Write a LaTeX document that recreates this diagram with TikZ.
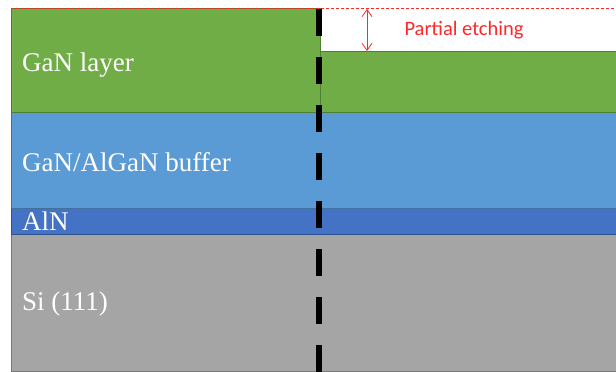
\documentclass[tikz,border=0pt]{standalone}
\usepackage{fontspec}
\setmainfont{Liberation Serif}
\newfontfamily\calibri{Carlito}
\usetikzlibrary{arrows.meta}
\definecolor{ganfill}{RGB}{112,173,71}
\definecolor{ganline}{RGB}{80,126,50}
\definecolor{buffill}{RGB}{91,155,213}
\definecolor{bufline}{RGB}{65,113,156}
\definecolor{alnfill}{RGB}{68,114,196}
\definecolor{alnline}{RGB}{47,82,143}
\definecolor{sifill}{RGB}{165,165,165}
\definecolor{siline}{RGB}{120,120,120}
\definecolor{etchred}{RGB}{255,40,40}
\begin{document}
\begin{tikzpicture}[x=1pt,y=-1pt,
  layerlabel/.style={anchor=base west, inner sep=0pt, text=white, font=\fontsize{27}{30}\selectfont},
  cutline/.style={line width=6.5pt, dash pattern=on 27pt off 21pt},
  reddash/.style={etchred, line width=0.8pt, dash pattern=on 3pt off 2pt},
  etcharrow/.style={etchred, line width=0.8pt, {Straight Barb[length=7pt,width=10pt]}-{Straight Barb[length=7pt,width=10pt]}}]
\useasboundingbox (0,0) rectangle (616,372);
\fill[white] (0,0) rectangle (616,372);
% layers
\filldraw[fill=sifill, draw=siline, line width=1pt] (11,234) rectangle (620,371);
\filldraw[fill=alnfill, draw=alnline, line width=1pt] (11,208) rectangle (620,234);
\filldraw[fill=buffill, draw=bufline, line width=1pt] (11,112) rectangle (620,208);
\filldraw[fill=ganfill, draw=ganline, line width=1pt] (11,8) rectangle (320,112);
\filldraw[fill=ganfill, draw=ganline, line width=1pt] (320,51.5) rectangle (620,112);
% red top line
\coordinate (tl) at (11,8);
\coordinate (tr) at (616,8);
\draw[reddash] (tl) -- (tr);
% cut line
\coordinate (ct) at (319,9);
\coordinate (cb) at (319,372);
\draw[cutline] (ct) -- (cb);
% etch depth arrow
\coordinate (at) at (367,9);
\coordinate (ab) at (367,51);
\draw[etcharrow] (at) -- (ab);
\node[etchred, font=\calibri\fontsize{20.5}{24}\selectfont, inner sep=0pt] (etch) at (464,30.5) {Partial etching};
% labels
\node[layerlabel] (gan) at (22,71) {GaN layer};
\node[layerlabel] (buf) at (22,171.5) {GaN/AlGaN buffer};
\node[layerlabel] (aln) at (22,230) {AlN};
\node[layerlabel] (si) at (22,310) {Si (111)};
\end{tikzpicture}
\end{document}
